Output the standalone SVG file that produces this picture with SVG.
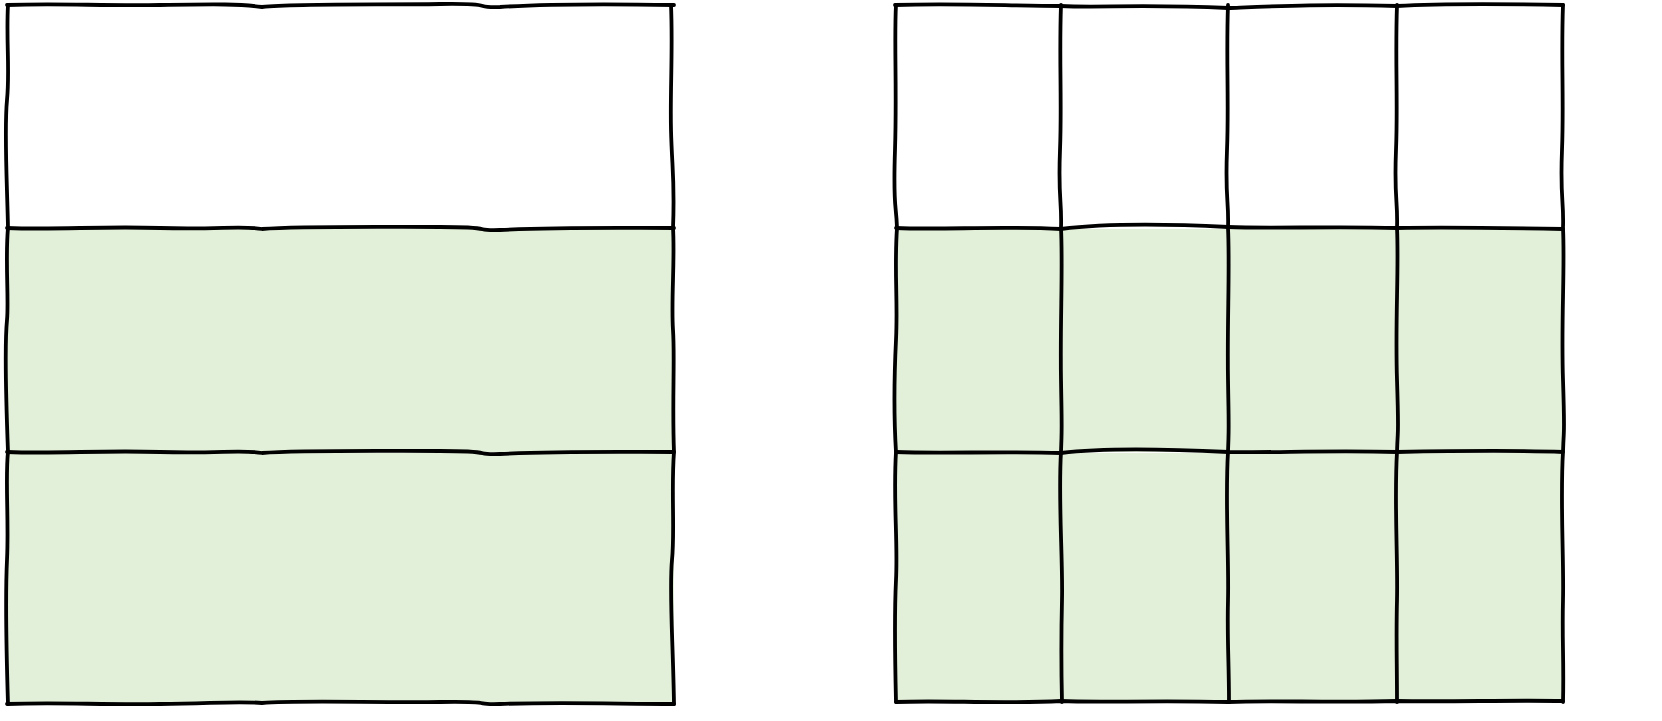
<svg xmlns="http://www.w3.org/2000/svg" width="1662" height="721" viewBox="0 0 1662 721">
<style>
.w{fill:#ffffff}
.g{fill:#e2efd9}
.s{fill:none;stroke:#000;stroke-width:3.8;stroke-linecap:round;stroke-linejoin:round}
</style>
<rect width="1662" height="721" fill="#ffffff"/>
<g id="left-box">
  <g id="left-row-1"><rect class="w" x="7" y="5" width="667" height="223"/></g>
  <g id="left-row-2"><rect class="g" x="7" y="229" width="667" height="223"/></g>
  <g id="left-row-3"><rect class="g" x="7" y="453" width="667" height="250"/></g>
</g>
<g id="right-box">
  <g id="r1c1"><rect class="w" x="896" y="5" width="165" height="223"/></g>
  <g id="r1c2"><rect class="w" x="1062" y="5" width="166" height="223"/></g>
  <g id="r1c3"><rect class="w" x="1229" y="5" width="168" height="223"/></g>
  <g id="r1c4"><rect class="w" x="1398" y="5" width="165" height="223"/></g>
  <g id="r2c1"><rect class="g" x="896" y="229" width="165" height="223"/></g>
  <g id="r2c2"><rect class="g" x="1062" y="229" width="166" height="223"/></g>
  <g id="r2c3"><rect class="g" x="1229" y="229" width="168" height="223"/></g>
  <g id="r2c4"><rect class="g" x="1398" y="229" width="165" height="223"/></g>
  <g id="r3c1"><rect class="g" x="896" y="453" width="165" height="248"/></g>
  <g id="r3c2"><rect class="g" x="1062" y="453" width="166" height="248"/></g>
  <g id="r3c3"><rect class="g" x="1229" y="453" width="168" height="248"/></g>
  <g id="r3c4"><rect class="g" x="1398" y="453" width="165" height="248"/></g>
</g>
<g id="connectors" class="s">
  <path d="M7,5 C60,3 100,6 160,5 S240,4 262,7 C300,3 380,5 440,4 S470,8 500,7 C560,3 620,4 674,5"/>
  <path d="M7,228 C60,230 100,226 160,228 S240,225 262,229 C300,226 380,227 440,227 S470,231 500,230 C560,227 620,228 674,228"/>
  <path d="M7,452 C60,454 100,450 160,452 S240,449 262,453 C300,450 380,451 440,451 S470,455 500,454 C560,451 620,452 674,452"/>
  <path d="M7,704 C60,702 100,705 160,704 S240,701 262,703 C300,700 380,703 440,702 S470,705 500,704 C560,702 620,704 674,704"/>
  <path d="M8,5 C6,40 10,70 7,100 S7,180 8,228 C5,260 9,300 7,320 S6,400 8,452 C5,480 9,520 7,560 S6,640 8,704"/>
  <path d="M671,5 C673,50 670,90 671,130 S675,180 673,228 C675,260 671,300 673,330 S672,400 674,452 C671,490 675,530 672,560 S673,640 674,704"/>
  <path d="M895,5 C960,3 1010,6 1061,6 C1100,8 1140,4 1228,8 C1280,6 1320,4 1397,6 C1450,3 1510,4 1563,5"/>
  <path d="M896,228 C940,230 1000,226 1061,229 C1100,224 1150,223 1228,227 C1270,229 1330,226 1397,228 C1450,227 1510,228 1563,229"/>
  <path d="M896,452 C940,454 1000,451 1061,453 C1100,448 1150,448 1228,452 C1270,453 1330,450 1397,452 C1450,451 1510,450 1563,452"/>
  <path d="M896,702 C940,700 1000,704 1061,701 C1100,703 1150,700 1228,702 C1270,700 1330,703 1397,701 C1450,702 1510,700 1563,701"/>
  <path d="M896,5 C894,40 897,90 895,150 S896,200 897,228 C894,270 898,300 896,340 S894,420 896,452 C893,500 898,540 896,580 S895,660 896,702"/>
  <path d="M1061,5 C1059,60 1062,100 1060,150 S1062,200 1061,228 C1063,270 1060,320 1061,380 S1062,420 1061,452 C1058,500 1063,560 1062,600 S1061,660 1062,702"/>
  <path d="M1228,5 C1226,60 1229,100 1227,150 S1229,200 1228,228 C1230,270 1227,320 1228,380 S1229,420 1228,452 C1225,500 1229,560 1228,600 S1229,660 1229,702"/>
  <path d="M1397,5 C1395,60 1398,100 1396,150 S1398,200 1397,228 C1399,270 1395,320 1397,380 S1398,420 1397,452 C1394,500 1398,560 1397,600 S1397,660 1397,702"/>
  <path d="M1563,5 C1561,60 1564,100 1562,150 S1564,200 1563,228 C1565,270 1561,320 1563,380 S1564,420 1563,452 C1560,500 1564,560 1563,600 S1564,660 1563,702"/>
</g>
</svg>
